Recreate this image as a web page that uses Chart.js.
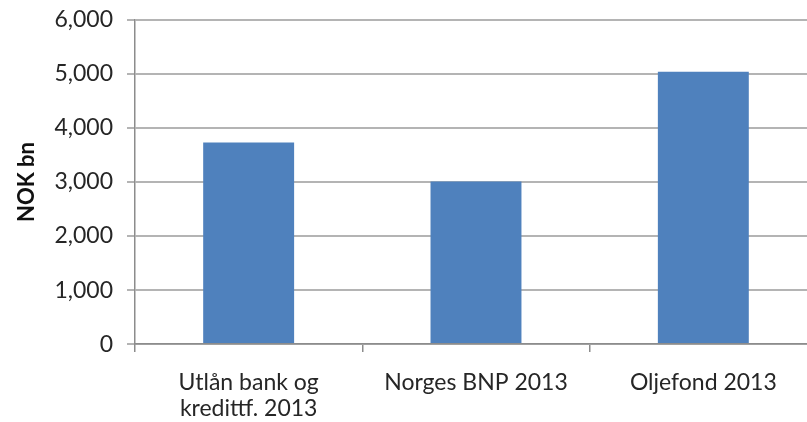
<!DOCTYPE html>
<html>
<head>
<meta charset="utf-8">
<script src="https://cdn.jsdelivr.net/npm/chart.js@4/dist/chart.umd.min.js"></script>
<style>
html,body{margin:0;padding:0;background:#fff;overflow:hidden;}
#wrap{width:817px;height:422px;}
</style>
</head>
<body>
<div id="wrap"><canvas id="c" width="817" height="422"></canvas></div>
<script>
const categories = [['Utlån bank og','kredittf. 2013'], 'Norges BNP 2013', 'Oljefond 2013'];
const values = [3730, 3010, 5040];
const yTicks = [0, 1000, 2000, 3000, 4000, 5000, 6000];
const yTitle = 'NOK bn';

const FONT = 'Lato, "Open Sans", sans-serif';
new Chart(document.getElementById('c'), {
  type: 'bar',
  data: {
    labels: categories,
    datasets: [{
      data: values,
      backgroundColor: '#4F81BD',
      borderWidth: 0,
      barPercentage: 0.4,
      categoryPercentage: 1.0
    }]
  },
  options: {
    responsive: false,
    animation: false,
    layout: { padding: { top: 0, right: 0, left: 14, bottom: -17 } },
    plugins: { legend: { display: false }, tooltip: { enabled: false } },
    scales: {
      x: {
        grid: { display: true, drawOnChartArea: false, drawTicks: true, tickLength: 8, color: '#8c8c8c', lineWidth: 1.5, offset: true },
        border: { display: true, color: '#8c8c8c', width: 1.5 },
        ticks: { color: '#262626', font: { family: FONT, size: 23, lineHeight: 1.15 }, padding: 17, maxRotation: 0, autoSkip: false }
      },
      y: {
        min: 0, max: 6000,
        afterBuildTicks: (axis) => { axis.ticks = yTicks.map(v => ({ value: v })); },
        afterFit: (scale) => { scale.paddingTop = 20; scale.paddingBottom = 14; },
        grid: { color: '#b4b4b4', lineWidth: 2, tickLength: 8, drawTicks: true },
        border: { display: true, color: '#8c8c8c', width: 1.5 },
        ticks: {
          color: '#262626', font: { family: FONT, size: 23 }, padding: 14,
          callback: (v) => Number(v).toLocaleString('en-US')
        },
        title: { display: true, text: yTitle, color: '#111', font: { family: FONT, size: 22, weight: 'bold' }, padding: { top: 0, bottom: 0 } }
      }
    }
  }
});
</script>
</body>
</html>
